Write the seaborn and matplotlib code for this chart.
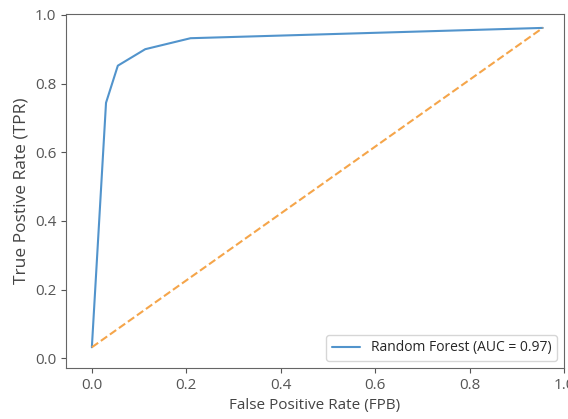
import seaborn as sns
import matplotlib.pyplot as plt
import pandas as pd

# ROC points
fpr = [0.0, 0.030, 0.055, 0.113, 0.209, 0.955]
tpr = [0.032, 0.744, 0.852, 0.900, 0.932, 0.962]
diag_x = [0.0, 0.955]
diag_y = [0.032, 0.962]
auc = 0.97

sns.set_style("ticks")
plt.rcParams['font.family'] = ['Open Sans', 'DejaVu Sans']

df = pd.DataFrame({'fpr': fpr, 'tpr': tpr})

fig = plt.figure(figsize=(5.68, 4.19), dpi=100)
ax = fig.add_axes([0.116, 0.122, 0.877, 0.845])

sns.lineplot(data=df, x='fpr', y='tpr', ax=ax, color='#5294cc', linewidth=1.5,
             label=f'Random Forest (AUC = {auc:.2f})', sort=False)
ax.plot(diag_x, diag_y, linestyle='--', color='#f5a54a', linewidth=1.5)

ax.set_xlim(-0.055, 1.0)
ax.set_ylim(-0.028, 1.003)
ax.set_xlabel('False Positive Rate (FPB)', fontsize=11, color='#444444')
ax.set_ylabel('True Postive Rate (TPR)', fontsize=12.5, color='#444444')
ax.tick_params(labelsize=11, colors='#555555')
for s in ax.spines.values():
    s.set_color('#666666')
    s.set_visible(True)
ax.legend(loc='lower right', fontsize=10, frameon=True)

plt.savefig('out.png', dpi=100)
